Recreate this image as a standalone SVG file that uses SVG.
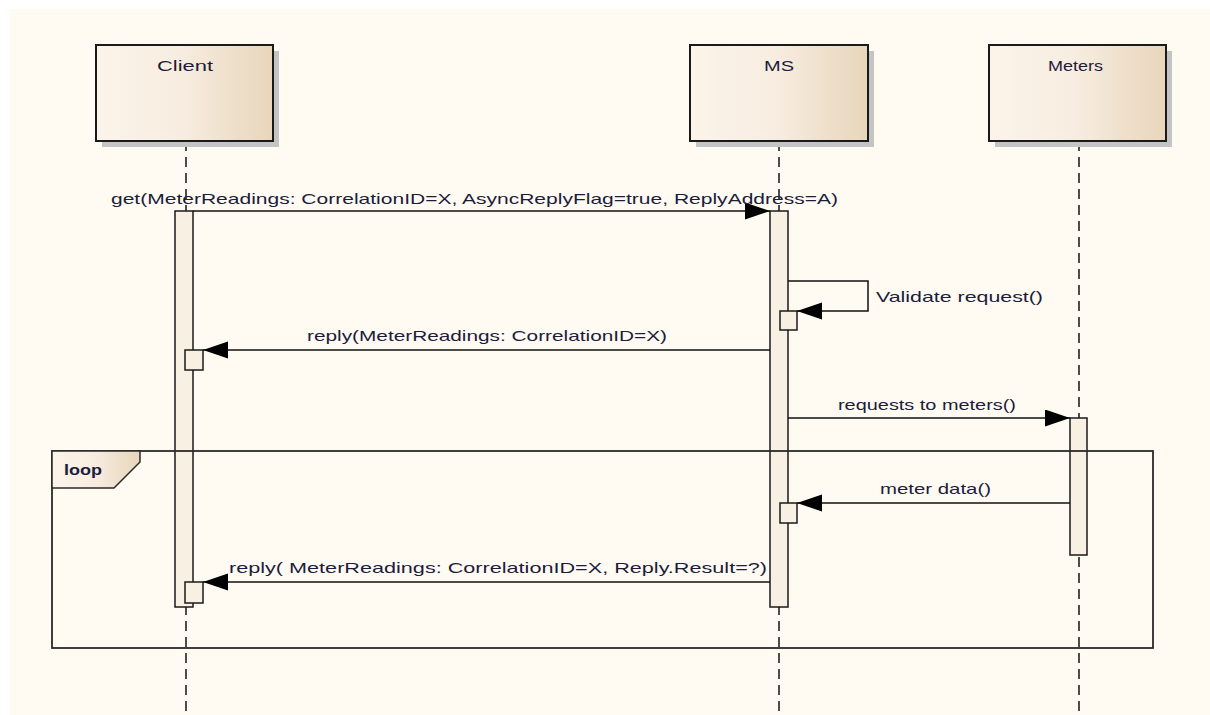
<svg xmlns="http://www.w3.org/2000/svg" width="1210" height="715" viewBox="0 0 1210 715">
<defs>
<linearGradient id="boxg" x1="0" y1="0" x2="1" y2="0">
<stop offset="0" stop-color="#fcf4ea"/>
<stop offset="0.5" stop-color="#f7ecdf"/>
<stop offset="1" stop-color="#e8d5bb"/>
</linearGradient>
<marker id="ah" markerUnits="userSpaceOnUse" markerWidth="26" markerHeight="18" refX="25" refY="8.5" orient="auto">
<path d="M0,0 L25,8.5 L0,17 Z" fill="#000"/>
</marker>
<style>
.lbl{font-family:"Liberation Sans",Arial,sans-serif;font-size:15px;fill:#1c1c3c}
.title{font-family:"Liberation Sans",Arial,sans-serif;font-size:15px;fill:#1c1c3c}
.box{fill:url(#boxg);stroke:#1a1a1a;stroke-width:2}
.shadow{fill:#c4c4c4}
.life{stroke:#222;stroke-width:1.6;stroke-dasharray:10,6;fill:none}
.act{fill:#f9f0e4;stroke:#1a1a1a;stroke-width:1.5}
.msg{stroke:#111;stroke-width:1.5;fill:none;marker-end:url(#ah)}
</style>
</defs>
<rect x="0" y="0" width="1210" height="715" fill="#ffffff"/>
<rect x="10" y="9" width="1200" height="706" fill="#fffbf3"/>

<g id="lifelines">
<line class="life" x1="186" y1="141" x2="186" y2="715"/>
<line class="life" x1="779" y1="141" x2="779" y2="715"/>
<line class="life" x1="1079" y1="141" x2="1079" y2="715"/>
</g>

<g id="client">
<rect class="shadow" x="102" y="51" width="177" height="96"/>
<rect class="box" x="96" y="45" width="177" height="96"/>
<text class="title" x="157" y="71" textLength="56" lengthAdjust="spacingAndGlyphs">Client</text>
</g>
<g id="ms">
<rect class="shadow" x="696" y="51" width="178" height="96"/>
<rect class="box" x="690" y="45" width="178" height="96"/>
<text class="title" x="764" y="71" textLength="30" lengthAdjust="spacingAndGlyphs">MS</text>
</g>
<g id="meters">
<rect class="shadow" x="995" y="51" width="177" height="96"/>
<rect class="box" x="989" y="45" width="177" height="96"/>
<text class="title" x="1048" y="71" textLength="55" lengthAdjust="spacingAndGlyphs">Meters</text>
</g>

<g id="activations">
<rect class="act" x="175" y="211" width="18" height="396"/>
<rect class="act" x="770" y="211" width="18" height="396"/>
<rect class="act" x="1070" y="418" width="17" height="137"/>
<rect class="act" x="185" y="350" width="18" height="20"/>
<rect class="act" x="185" y="582" width="18" height="21"/>
<rect class="act" x="780" y="311" width="17" height="19"/>
<rect class="act" x="780" y="503" width="17" height="20"/>
</g>

<g id="loop">
<rect x="52" y="451" width="1101" height="197" fill="none" stroke="#2a2a2a" stroke-width="1.8"/>
<path d="M52,451 H140 V462 L114,488 H52 Z" fill="url(#boxg)" stroke="#2a2a2a" stroke-width="1.5"/>
<text class="lbl" x="64" y="475" font-weight="bold" textLength="38" lengthAdjust="spacingAndGlyphs">loop</text>
</g>

<g id="connectors">
<line class="msg" x1="193" y1="211" x2="770" y2="211"/>
<polyline class="msg" points="788,281 868,281 868,311 797,311"/>
<line class="msg" x1="770" y1="350" x2="203" y2="350"/>
<line class="msg" x1="788" y1="418" x2="1070" y2="418"/>
<line class="msg" x1="1070" y1="503" x2="797" y2="503"/>
<line class="msg" x1="770" y1="582" x2="203" y2="582"/>
</g>

<g id="labels">
<text class="lbl" x="111" y="204" textLength="727" lengthAdjust="spacingAndGlyphs">get(MeterReadings: CorrelationID=X, AsyncReplyFlag=true, ReplyAddress=A)</text>
<text class="lbl" x="876" y="302" textLength="167" lengthAdjust="spacingAndGlyphs">Validate request()</text>
<text class="lbl" x="307" y="341" textLength="360" lengthAdjust="spacingAndGlyphs">reply(MeterReadings: CorrelationID=X)</text>
<text class="lbl" x="838" y="410" textLength="178" lengthAdjust="spacingAndGlyphs">requests to meters()</text>
<text class="lbl" x="880" y="494" textLength="111" lengthAdjust="spacingAndGlyphs">meter data()</text>
<text class="lbl" x="229" y="573" textLength="538" lengthAdjust="spacingAndGlyphs">reply( MeterReadings: CorrelationID=X, Reply.Result=?)</text>
</g>
</svg>
